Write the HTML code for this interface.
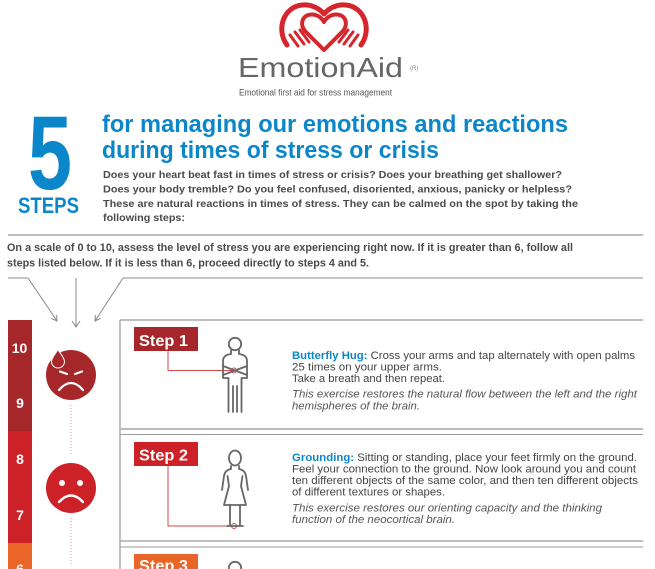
<!DOCTYPE html>
<html>
<head>
<meta charset="utf-8">
<style>
  html, body { margin:0; padding:0; background:#ffffff; }
  body { width:655px; height:569px; overflow:hidden; }
  svg { display:block; }
  .sans { font-family: "Liberation Sans", "DejaVu Sans", sans-serif; }
</style>
</head>
<body>
<svg width="655" height="569" viewBox="0 0 655 569" xmlns="http://www.w3.org/2000/svg" class="sans">
  <rect x="0" y="0" width="655" height="569" fill="#ffffff"/>

  <!-- Logo -->
  <g fill="none" stroke="#d6262d" stroke-linecap="round" stroke-linejoin="round">
    <path d="M287,45 C276,30 283,7 302,5 C312,4 320,9 324,14 C328,9 336,4 346,5 C365,7 372,30 361,45" stroke-width="5"/>
    <path d="M324,50 L306,32 C299,25 302,15 311,14.5 C317,14 322,18 324,22 C326,18 331,14 337,14.5 C346,15 349,25 342,32 Z" stroke-width="4"/>
    <path d="M290,35 L298,46 M295,32 L304,44 M300,30 L309,42" stroke-width="3"/>
    <path d="M358,35 L350,46 M353,32 L344,44 M348,30 L339,42" stroke-width="3"/>
  </g>
  <text x="238" y="77" font-size="28" fill="#666666" textLength="165" lengthAdjust="spacingAndGlyphs">EmotionAid</text>
  <text x="410" y="70" font-size="6" fill="#888888">(R)</text>
  <text x="239" y="95.5" font-size="9" fill="#555555" textLength="153" lengthAdjust="spacingAndGlyphs">Emotional first aid for stress management</text>

  <!-- 5 STEPS -->
  <text x="28" y="189" font-size="105" font-weight="bold" fill="#0b87c9" textLength="44" lengthAdjust="spacingAndGlyphs">5</text>
  <text x="18" y="213" font-size="22" font-weight="bold" fill="#0b87c9" textLength="61" lengthAdjust="spacingAndGlyphs">STEPS</text>

  <!-- Title -->
  <text x="102" y="132" font-size="24" font-weight="bold" fill="#0b87c9" textLength="466" lengthAdjust="spacingAndGlyphs">for managing our emotions and reactions</text>
  <text x="102" y="158" font-size="24" font-weight="bold" fill="#0b87c9" textLength="337" lengthAdjust="spacingAndGlyphs">during times of stress or crisis</text>

  <!-- Intro paragraph -->
  <g font-size="10.5" font-weight="bold" fill="#4a4a4a">
    <text x="103" y="178" textLength="459" lengthAdjust="spacingAndGlyphs">Does your heart beat fast in times of stress or crisis? Does your breathing get shallower?</text>
    <text x="103" y="192.5" textLength="469" lengthAdjust="spacingAndGlyphs">Does your body tremble? Do you feel confused, disoriented, anxious, panicky or helpless?</text>
    <text x="103" y="207" textLength="475" lengthAdjust="spacingAndGlyphs">These are natural reactions in times of stress. They can be calmed on the spot by taking the</text>
    <text x="103" y="221" textLength="82" lengthAdjust="spacingAndGlyphs">following steps:</text>
  </g>

  <!-- Rule -->
  <line x1="8" y1="235" x2="643" y2="235" stroke="#aaaaaa" stroke-width="1.5"/>

  <!-- Scale paragraph -->
  <g font-size="11" font-weight="bold" fill="#4a4a4a">
    <text x="7" y="251" textLength="566" lengthAdjust="spacingAndGlyphs">On a scale of 0 to 10, assess the level of stress you are experiencing right now. If it is greater than 6, follow all</text>
    <text x="7" y="266.5" textLength="362" lengthAdjust="spacingAndGlyphs">steps listed below. If it is less than 6, proceed directly to steps 4 and 5.</text>
  </g>

  <!-- Arrow lines -->
  <g stroke="#888888" stroke-width="1" fill="none">
    <line x1="8" y1="278" x2="28" y2="278"/>
    <line x1="123" y1="278" x2="643" y2="278"/>
    <line x1="28" y1="278" x2="57" y2="321"/>
    <polyline points="56.6,315 57,321 51.6,318.4"/>
    <line x1="76" y1="278" x2="76" y2="327"/>
    <polyline points="72,321 76,327 80,321"/>
    <line x1="123" y1="278" x2="95" y2="321"/>
    <polyline points="95.4,315 95,321 100.4,318.4"/>
  </g>

  <!-- Left scale bar -->
  <rect x="8" y="320" width="24" height="111" fill="#a6272a"/>
  <rect x="8" y="431" width="24" height="112" fill="#cd2128"/>
  <rect x="8" y="543" width="24" height="30" fill="#ea6528"/>
  <g font-size="14" font-weight="bold" fill="#ffffff" text-anchor="middle">
    <text x="19.5" y="353">10</text>
    <text x="20" y="408">9</text>
    <text x="20" y="464">8</text>
    <text x="20" y="520">7</text>
    <text x="20" y="574">6</text>
  </g>

  <!-- Dotted line -->
  <g stroke="#e59a9a" stroke-width="1" stroke-dasharray="1 2">
    <line x1="71" y1="405" x2="71" y2="455"/>
    <line x1="71" y1="518" x2="71" y2="566"/>
  </g>

  <!-- Face 1 -->
  <circle cx="71" cy="375" r="25" fill="#a6272a"/>
  <path d="M58,349.5 C56,353 51.5,358 51.5,361.5 A6.5,6.5 0 0 0 64.5,361.5 C64.5,358 60,353 58,349.5 Z" fill="#a6272a" stroke="#ffffff" stroke-width="1"/>
  <g stroke="#ffffff" stroke-width="2.2" stroke-linecap="round" fill="none">
    <line x1="60" y1="371.5" x2="67" y2="374"/>
    <line x1="75" y1="374" x2="82" y2="371.5"/>
    <path d="M59,390 Q71,376 83,390"/>
  </g>

  <!-- Face 2 -->
  <circle cx="71" cy="488" r="25" fill="#cd2128"/>
  <circle cx="62" cy="483" r="3" fill="#ffffff"/>
  <circle cx="80" cy="483" r="3" fill="#ffffff"/>
  <path d="M59,502 Q71,489 83,502" stroke="#ffffff" stroke-width="2.4" stroke-linecap="round" fill="none"/>

  <!-- Step box lines -->
  <g fill="none">
    <line x1="120" y1="320" x2="643" y2="320" stroke="#999999" stroke-width="1.2"/>
    <line x1="120" y1="320" x2="120" y2="569" stroke="#999999" stroke-width="1.2"/>
    <line x1="120" y1="429" x2="643" y2="429" stroke="#bbbbbb" stroke-width="2"/>
    <line x1="120" y1="434.5" x2="643" y2="434.5" stroke="#999999" stroke-width="1"/>
    <line x1="120" y1="541" x2="643" y2="541" stroke="#aaaaaa" stroke-width="1.5"/>
    <line x1="120" y1="547" x2="643" y2="547" stroke="#999999" stroke-width="1"/>
  </g>

  <!-- Step labels -->
  <rect x="134" y="327" width="64" height="24" fill="#a6272a"/>
  <text x="139" y="346" font-size="16" font-weight="bold" fill="#ffffff" textLength="49" lengthAdjust="spacingAndGlyphs">Step 1</text>
  <rect x="134" y="442" width="64" height="24" fill="#cd2128"/>
  <text x="139" y="460.5" font-size="16" font-weight="bold" fill="#ffffff" textLength="49" lengthAdjust="spacingAndGlyphs">Step 2</text>
  <rect x="134" y="554" width="64" height="24" fill="#ea6528"/>
  <text x="139" y="571" font-size="16" font-weight="bold" fill="#ffffff" textLength="49" lengthAdjust="spacingAndGlyphs">Step 3</text>

  <!-- Connectors -->
  <g stroke="#d24a4a" stroke-width="1" fill="none">
    <polyline points="168,351 168,370.5 232,370.5"/>
    <circle cx="234" cy="370.5" r="2.5"/>
    <polyline points="168,466 168,526 232,526"/>
    <circle cx="234" cy="526" r="2.5"/>
  </g>

  <!-- Figure 1: man with crossed arms -->
  <g stroke="#666666" stroke-width="1.8" fill="none" stroke-linejoin="round" stroke-linecap="round">
    <circle cx="235" cy="344" r="6.2"/>
    <path d="M231,350 L231,354 Q223,355 223,361 L223,378 L228.5,378 L228.5,412"/>
    <path d="M239,350 L239,354 Q247,355 247,361 L247,378 L241.5,378 L241.5,412"/>
    <path d="M233,386 L233,412 M237,386 L237,412"/>
    <path d="M223,366 L247,375 M223,375 L247,366"/>
  </g>

  <!-- Figure 2: woman -->
  <g stroke="#666666" stroke-width="1.8" fill="none" stroke-linejoin="round" stroke-linecap="round">
    <ellipse cx="235" cy="458" rx="6" ry="7.5"/>
    <path d="M231,466 L231,469 Q225,470 224,476 L222,490"/>
    <path d="M239,466 L239,469 Q245,470 246,476 L248,490"/>
    <path d="M227.5,476 L229,486 L224,505 L246,505 L241,486 L242.5,476"/>
    <path d="M230,505 L230,525 M240,505 L240,525 M227,526 L243,526"/>
  </g>

  <!-- Figure 3 head (partial) -->
  <circle cx="235" cy="568" r="6.2" stroke="#666666" stroke-width="1.8" fill="none"/>

  <!-- Step 1 text -->
  <g font-size="11" fill="#444444">
    <text x="292" y="359" textLength="343" lengthAdjust="spacingAndGlyphs"><tspan font-weight="bold" fill="#0b87c9">Butterfly Hug:</tspan> Cross your arms and tap alternately with open palms</text>
    <text x="292" y="370.5" textLength="150" lengthAdjust="spacingAndGlyphs">25 times on your upper arms.</text>
    <text x="292" y="382" textLength="153" lengthAdjust="spacingAndGlyphs">Take a breath and then repeat.</text>
    <text x="292" y="397.5" font-style="italic" fill="#555555" textLength="345" lengthAdjust="spacingAndGlyphs">This exercise restores the natural flow between the left and the right</text>
    <text x="292" y="409.5" font-style="italic" fill="#555555" textLength="128" lengthAdjust="spacingAndGlyphs">hemispheres of the brain.</text>
  </g>

  <!-- Step 2 text -->
  <g font-size="11" fill="#444444">
    <text x="292" y="461" textLength="345" lengthAdjust="spacingAndGlyphs"><tspan font-weight="bold" fill="#0b87c9">Grounding:</tspan> Sitting or standing, place your feet firmly on the ground.</text>
    <text x="292" y="472.5" textLength="344" lengthAdjust="spacingAndGlyphs">Feel your connection to the ground. Now look around you and count</text>
    <text x="292" y="484" textLength="346" lengthAdjust="spacingAndGlyphs">ten different objects of the same color, and then ten different objects</text>
    <text x="292" y="495.5" textLength="153" lengthAdjust="spacingAndGlyphs">of different textures or shapes.</text>
    <text x="292" y="511.5" font-style="italic" fill="#555555" textLength="310" lengthAdjust="spacingAndGlyphs">This exercise restores our orienting capacity and the thinking</text>
    <text x="292" y="523" font-style="italic" fill="#555555" textLength="163" lengthAdjust="spacingAndGlyphs">function of the neocortical brain.</text>
  </g>
</svg>
</body>
</html>
